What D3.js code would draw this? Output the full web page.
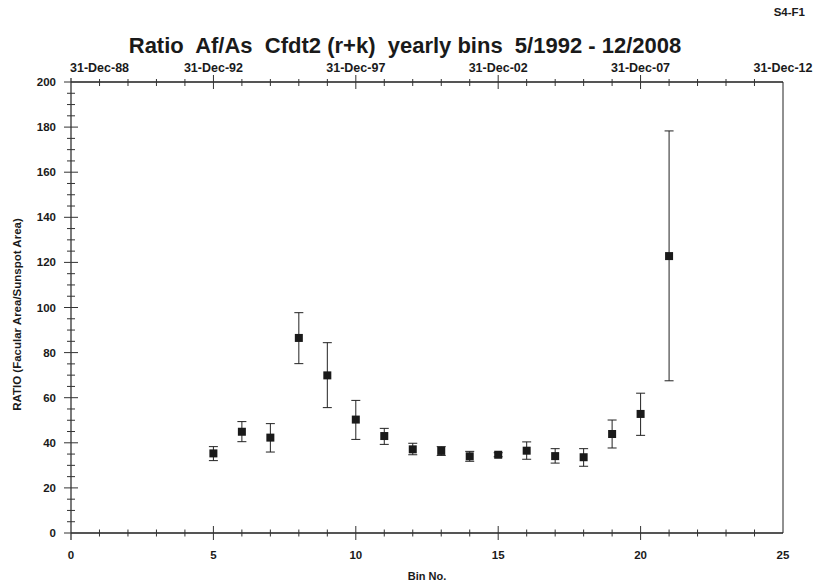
<!DOCTYPE html>
<html>
<head>
<meta charset="utf-8">
<script src="https://cdn.jsdelivr.net/npm/d3@7"></script>
<style>
  body { margin: 0; background: #fff; }
  svg { display: block; }
  text { font-family: "Liberation Sans", Arial, sans-serif; font-weight: bold; fill: #1a1a1a; }
</style>
</head>
<body>
<div id="chart"></div>
<script>
var w = 814, h = 587;

// bin number, ratio, lower end and upper end of the error bar
var bins   = [5, 6, 7, 8, 9, 10, 11, 12, 13, 14, 15, 16, 17, 18, 19, 20, 21];
var ratio  = [35.3, 44.9, 42.3, 86.5, 69.9, 50.3, 43.0, 37.1, 36.4, 34.0, 34.7, 36.5, 34.1, 33.6, 43.9, 52.8, 122.8];
var errLo  = [32.1, 40.5, 35.9, 75.1, 55.6, 41.5, 39.3, 34.7, 34.4, 31.8, 33.8, 32.7, 31.0, 29.6, 37.7, 43.3, 67.5];
var errHi  = [38.3, 49.4, 48.5, 97.7, 84.4, 58.8, 46.4, 39.8, 38.3, 36.2, 35.6, 40.4, 37.4, 37.4, 50.1, 62.0, 178.3];

var xTicks = [0, 5, 10, 15, 20, 25];
var yTicks = [0, 20, 40, 60, 80, 100, 120, 140, 160, 180, 200];
var dateLabels = ['1988-12-31', '1992-12-31', '1997-12-31', '2002-12-31', '2007-12-31', '2012-12-31'];

var margin = { left: 71, right: 31, top: 82, bottom: 54 };

var svg = d3.select('#chart').append('svg').attr('width', w).attr('height', h);

var x = d3.scaleLinear().domain([0, 25]).range([margin.left, w - margin.right]);
var y = d3.scaleLinear().domain([0, 200]).range([h - margin.bottom, margin.top]);
var parse = d3.timeParse('%Y-%m-%d');
var t = d3.scaleTime()
  .domain([parse('1987-12-31'), parse('2012-12-31')])
  .range(x.range());

var x0 = x(0), x1 = x(25), y0 = y(0), y1 = y(200);
var axisCol = '#555';

// frame lines
svg.append('line').attr('x1', x0).attr('x2', x1).attr('y1', y0).attr('y2', y0)
  .attr('stroke', axisCol).attr('stroke-width', 2);
svg.append('line').attr('x1', x0).attr('x2', x1).attr('y1', y1).attr('y2', y1)
  .attr('stroke', axisCol).attr('stroke-width', 2);
svg.append('line').attr('x1', x0).attr('x2', x0).attr('y1', y1 - 4).attr('y2', y0 + 7)
  .attr('stroke', '#333').attr('stroke-width', 1.3);
svg.append('line').attr('x1', x1).attr('x2', x1).attr('y1', y1).attr('y2', y0)
  .attr('stroke', '#222').attr('stroke-width', 1);

// bottom axis ticks (every bin, major every 5)
var binMinor = d3.range(1, 25);
svg.selectAll('line.bminor').data(binMinor).enter().append('line')
  .attr('x1', function (d) { return x(d); }).attr('x2', function (d) { return x(d); })
  .attr('y1', function (d) { return d % 5 == 0 ? y0 - 7 : y0 - 3.5; })
  .attr('y2', function (d) { return d % 5 == 0 ? y0 + 7 : y0 + 3.5; })
  .attr('stroke', '#333').attr('stroke-width', 1);
svg.selectAll('text.bl').data(xTicks).enter().append('text')
  .attr('x', function (d) { return x(d); }).attr('y', y0 + 26)
  .attr('text-anchor', 'middle').style('font-size', '11.5px')
  .text(function (d) { return d; });

// top date axis: a tick per year
var years = d3.range(1988, 2012).map(function (yr) { return parse(yr + '-12-31'); });
svg.selectAll('line.tminor').data(years).enter().append('line')
  .attr('x1', function (d) { return t(d); }).attr('x2', function (d) { return t(d); })
  .attr('y1', function (d) { var yr = d.getFullYear(); return (yr % 5 == 2) ? y1 - 7 : y1 - 3; })
  .attr('y2', function (d) { var yr = d.getFullYear(); return (yr % 5 == 2) ? y1 + 7 : y1 + 4; })
  .attr('stroke', '#333').attr('stroke-width', 1);
svg.selectAll('text.tl').data(dateLabels).enter().append('text')
  .attr('x', function (d) { return t(parse(d)); }).attr('y', y1 - 10)
  .attr('text-anchor', 'middle').style('font-size', '12.5px')
  .text(function (d) { return d3.timeFormat('%d-%b-%y')(parse(d)); });

// left axis ticks (every 5, major every 20)
var yMinor = d3.range(5, 200, 5);
svg.selectAll('line.lminor').data(yMinor).enter().append('line')
  .attr('x1', function (d) { return d % 20 == 0 ? x0 - 7 : x0 - 4; })
  .attr('x2', function (d) { return d % 20 == 0 ? x0 + 7 : x0 + 4; })
  .attr('y1', function (d) { return y(d); }).attr('y2', function (d) { return y(d); })
  .attr('stroke', '#333').attr('stroke-width', 1);
svg.selectAll('line.lend').data([0, 200]).enter().append('line')
  .attr('x1', x0 - 7).attr('x2', x0)
  .attr('y1', function (d) { return y(d); }).attr('y2', function (d) { return y(d); })
  .attr('stroke', '#333').attr('stroke-width', 1);
svg.selectAll('text.ll').data(yTicks).enter().append('text')
  .attr('x', x0 - 15).attr('y', function (d) { return y(d) + 4; })
  .attr('text-anchor', 'end').style('font-size', '11.5px')
  .text(function (d) { return d; });

// error bars
var pts = bins.map(function (b, i) { return { b: b, v: ratio[i], lo: errLo[i], hi: errHi[i] }; });
var eb = svg.selectAll('g.eb').data(pts).enter().append('g').attr('class', 'eb');
eb.append('line')
  .attr('x1', function (d) { return x(d.b); }).attr('x2', function (d) { return x(d.b); })
  .attr('y1', function (d) { return y(d.lo); }).attr('y2', function (d) { return y(d.hi); })
  .attr('stroke', '#222').attr('stroke-width', 1);
eb.append('line')
  .attr('x1', function (d) { return x(d.b) - 4.5; }).attr('x2', function (d) { return x(d.b) + 4.5; })
  .attr('y1', function (d) { return y(d.lo); }).attr('y2', function (d) { return y(d.lo); })
  .attr('stroke', '#222').attr('stroke-width', 1);
eb.append('line')
  .attr('x1', function (d) { return x(d.b) - 4.5; }).attr('x2', function (d) { return x(d.b) + 4.5; })
  .attr('y1', function (d) { return y(d.hi); }).attr('y2', function (d) { return y(d.hi); })
  .attr('stroke', '#222').attr('stroke-width', 1);
eb.append('rect')
  .attr('x', function (d) { return x(d.b) - 4; }).attr('y', function (d) { return y(d.v) - 4; })
  .attr('width', 8).attr('height', 8).attr('fill', '#1a1a1a');

// titles
svg.append('text').attr('x', 405).attr('y', 53).attr('text-anchor', 'middle')
  .style('font-size', '22px').style('white-space', 'pre')
  .text('Ratio  Af/As  Cfdt2 (r+k)  yearly bins  5/1992 - 12/2008');
svg.append('text').attr('x', 805).attr('y', 16).attr('text-anchor', 'end')
  .style('font-size', '11.5px').text('S4-F1');
svg.append('text').attr('x', (x0 + x1) / 2).attr('y', 580).attr('text-anchor', 'middle')
  .style('font-size', '11px').text('Bin No.');
svg.append('text').attr('transform', 'translate(21,' + ((y0 + y1) / 2 + 7) + ') rotate(-90)')
  .attr('text-anchor', 'middle').style('font-size', '11.5px')
  .text('RATIO (Facular Area/Sunspot Area)');
</script>
</body>
</html>
